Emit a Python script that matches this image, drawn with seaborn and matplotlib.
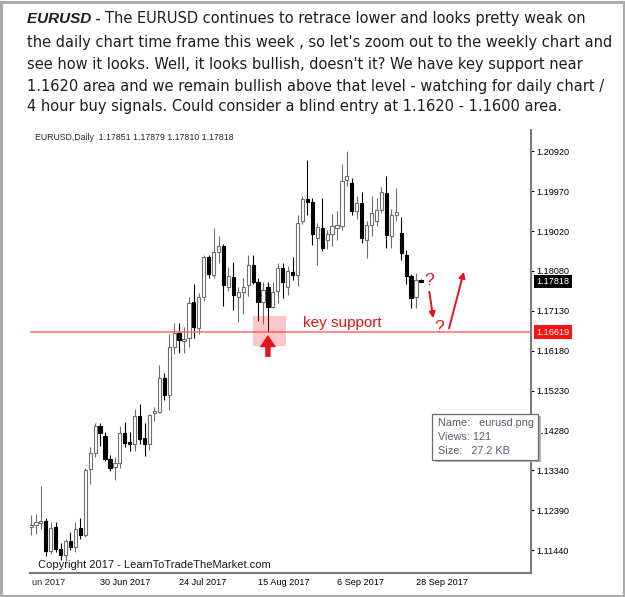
import matplotlib
matplotlib.use("Agg")
import matplotlib.pyplot as plt
from matplotlib.patches import Rectangle, FancyArrow
import seaborn as sns
import pandas as pd
import numpy as np

# daily EURUSD candles, 12 Jun 2017 .. 29 Sep 2017
dates = pd.bdate_range("2017-06-12", "2017-09-29")
opens = [1.1200, 1.1203, 1.1209, 1.1214, 1.1142, 1.1199, 1.1147, 1.1133, 1.1166, 1.1151,
         1.1197, 1.1180, 1.1336, 1.1375, 1.1439, 1.1415, 1.1361, 1.1342, 1.1351, 1.1422,
         1.1400, 1.1396, 1.1463, 1.1410, 1.1396, 1.1470, 1.1472, 1.1552, 1.1513, 1.1627,
         1.1660, 1.1641, 1.1648, 1.1734, 1.1672, 1.1745, 1.1840, 1.1798, 1.1853, 1.1866,
         1.1769, 1.1793, 1.1746, 1.1756, 1.1774, 1.1821, 1.1782, 1.1733, 1.1770, 1.1722,
         1.1760, 1.1814, 1.1768, 1.1804, 1.1797, 1.1925, 1.1978, 1.1972, 1.1885, 1.1909,
         1.1881, 1.1895, 1.1909, 1.1914, 1.2022, 1.2016, 1.1950, 1.1968, 1.1881, 1.1916,
         1.1925, 1.1952, 1.1992, 1.1890, 1.1940, 1.1898, 1.1845, 1.1794, 1.1745, 1.17851]
highs = [1.1228, 1.1230, 1.1296, 1.1220, 1.1212, 1.1212, 1.1160, 1.1170, 1.1186, 1.1211,
         1.1220, 1.1340, 1.1389, 1.1446, 1.1445, 1.1425, 1.1370, 1.1365, 1.1440, 1.1448,
         1.1425, 1.1480, 1.1490, 1.1445, 1.1468, 1.1485, 1.1583, 1.1565, 1.1658, 1.1684,
         1.1684, 1.1675, 1.1745, 1.1777, 1.1755, 1.1846, 1.1846, 1.1910, 1.1890, 1.1870,
         1.1817, 1.1829, 1.1770, 1.1790, 1.1845, 1.1845, 1.1790, 1.1780, 1.1780, 1.1780,
         1.1825, 1.1826, 1.1820, 1.1840, 1.1940, 1.1985, 1.2070, 1.1980, 1.1920, 1.1980,
         1.1905, 1.1942, 1.1950, 1.2061, 1.2092, 1.2027, 1.1985, 1.1995, 1.1925, 1.1985,
         1.1980, 1.2007, 1.2033, 1.1955, 1.2004, 1.1936, 1.1857, 1.1800, 1.1803, 1.17879]
lows = [1.1181, 1.1183, 1.1195, 1.1130, 1.1135, 1.1140, 1.1120, 1.1119, 1.1144, 1.1140,
        1.1170, 1.1175, 1.1300, 1.1365, 1.1392, 1.1355, 1.1331, 1.1311, 1.1340, 1.1390,
        1.1380, 1.1380, 1.1395, 1.1368, 1.1382, 1.1451, 1.1470, 1.1500, 1.1477, 1.1610,
        1.1612, 1.1612, 1.1627, 1.1648, 1.1657, 1.1735, 1.1790, 1.1790, 1.1827, 1.1724,
        1.1760, 1.1714, 1.1687, 1.1705, 1.1748, 1.1775, 1.1688, 1.1680, 1.1662, 1.1718,
        1.1730, 1.1743, 1.1750, 1.1785, 1.1771, 1.1919, 1.1941, 1.1869, 1.1821, 1.1855,
        1.1860, 1.1866, 1.1880, 1.1905, 1.2010, 1.1940, 1.1930, 1.1874, 1.1838, 1.1890,
        1.1915, 1.1945, 1.1862, 1.1862, 1.1925, 1.1833, 1.1775, 1.1719, 1.1719, 1.17810]
closes = [1.1204, 1.1210, 1.1214, 1.1142, 1.1196, 1.1147, 1.1132, 1.1166, 1.1151, 1.1195,
          1.1180, 1.1335, 1.1375, 1.1439, 1.1422, 1.1361, 1.1340, 1.1351, 1.1422, 1.1398,
          1.1396, 1.1463, 1.1408, 1.1396, 1.1465, 1.1475, 1.1552, 1.1513, 1.1627, 1.1660,
          1.1643, 1.1646, 1.1731, 1.1675, 1.1746, 1.1840, 1.1800, 1.1853, 1.1866, 1.1774,
          1.1794, 1.1750, 1.1756, 1.1769, 1.1821, 1.1782, 1.1733, 1.1762, 1.1722, 1.1758,
          1.1814, 1.1780, 1.1806, 1.1797, 1.1921, 1.1978, 1.1971, 1.1895, 1.1912, 1.1862,
          1.1895, 1.1914, 1.1916, 1.2021, 1.2033, 1.1950, 1.1968, 1.1885, 1.1916, 1.1945,
          1.1952, 1.1995, 1.1893, 1.1940, 1.1948, 1.1850, 1.1794, 1.1743, 1.1786, 1.17818]

price_ticks = [1.20920, 1.19970, 1.19020, 1.18080, 1.17130, 1.16180,
               1.15230, 1.14280, 1.13340, 1.12390, 1.11440]
tick_dates = ["2017-06-30", "2017-07-24", "2017-08-15", "2017-09-06", "2017-09-28"]
tick_labels = ["30 Jun 2017", "24 Jul 2017", "15 Aug 2017", "6 Sep 2017", "28 Sep 2017"]

key_support = 1.16619
last_price = 1.17818
zone_low, zone_high = 1.1629, 1.1700
header = "EURUSD,Daily  1.17851 1.17879 1.17810 1.17818"

intro = [
    "The EURUSD continues to retrace lower and looks pretty weak on",
    "the daily chart time frame this week , so let's zoom out to the weekly chart and",
    "see how it looks. Well, it looks bullish, doesn't it? We have key support near",
    "1.1620 area and we remain bullish above that level - watching for daily chart /",
    "4 hour buy signals. Could consider a blind entry at 1.1620 - 1.1600 area.",
]
tooltip = ["Name:   eurusd.png", "Views: 121", "Size:   27.2 KB"]

W, H = 625, 597
def fx(px): return px / W
def fy(py): return 1 - py / H

BULL = "#6e6e6e"
RED = "#e3141c"
TXT = "#1e1e1e"

sns.set_style("white")
plt.rcParams['font.family'] = ['Liberation Sans', 'DejaVu Sans']

fig = plt.figure(figsize=(W / 100, H / 100), dpi=100)
ax = fig.add_axes([fx(30), fy(572.7), (531 - 30) / W, (572.7 - 130) / H])

df = pd.DataFrame({"open": opens, "high": highs, "low": lows, "close": closes}, index=dates)
df["pos"] = np.arange(len(df))
bull = df[df.close >= df.open]
bear = df[df.close < df.open]

ax.vlines(bull.pos, bull.low, bull.high, color=BULL, lw=0.8, zorder=2)
ax.vlines(bear.pos, bear.low, bear.high, color="black", lw=0.8, zorder=2)
ax.bar(bull.pos, (bull.close - bull.open).clip(lower=0.00006), bottom=bull.open,
       width=0.65, color="white", edgecolor=BULL, lw=0.8, zorder=3)
ax.bar(bear.pos, (bear.open - bear.close).clip(lower=0.00006), bottom=bear.close,
       width=0.65, color="black", edgecolor="black", lw=0.8, zorder=3)

ax.set_xlim(-0.2, 101.3)
ax.set_ylim(1.10905, 1.21419)

# axes look of the trading terminal
for s in ["left", "top"]:
    ax.spines[s].set_visible(False)
for s in ["right", "bottom"]:
    ax.spines[s].set_color("#7a7a7a")
    ax.spines[s].set_linewidth(1.5)
ax.yaxis.tick_right()
ax.set_yticks(price_ticks)
ax.set_yticklabels([f"{p:.5f}" for p in price_ticks])
ax.tick_params(axis="y", labelsize=6.6, length=2.5, pad=1.2, colors="black")
tick_pos = [df.index.get_loc(pd.Timestamp(d)) for d in tick_dates]
ax.set_xticks(tick_pos)
ax.set_xticklabels(tick_labels)
for lbl in ax.get_xticklabels():
    lbl.set_ha("left")
ax.tick_params(axis="x", labelsize=6.6, length=2.5, pad=1.5, colors="black")
ax.text(0.004, -0.012, "un 2017", transform=ax.transAxes, ha="left", va="top", fontsize=6.6)

# key support line, zone and labels
ax.axhline(key_support, color="#ff6e6e", lw=1.1, zorder=4)
ax.add_patch(Rectangle((45.0, zone_low), 6.7, zone_high - zone_low,
                       facecolor="#ff2020", alpha=0.25, lw=0, zorder=5))
aug17 = df.index.get_loc(pd.Timestamp("2017-08-17"))
ax.add_patch(FancyArrow(aug17, 1.1603, 0, 0.0052, width=1.1, head_width=3.4,
                        head_length=0.0029, length_includes_head=True,
                        color=RED, lw=0, zorder=6))
ax.text(55.2, key_support + 0.0006, "key support", color=RED, fontsize=11,
        ha="left", va="bottom", zorder=6)

yt = ax.get_yaxis_transform()
ax.text(1.011, last_price, f"{last_price:.5f}", transform=yt, ha="left", va="center",
        fontsize=6.6, color="white", clip_on=False,
        bbox=dict(boxstyle="square,pad=0.25", fc="black", ec="none"))
ax.text(1.011, key_support, f"{key_support:.5f}", transform=yt, ha="left", va="center",
        fontsize=6.6, color="white", clip_on=False,
        bbox=dict(boxstyle="square,pad=0.25", fc="#ff1010", ec="none"))

# scenario sketch: dip to support then up
ax.text(80.6, 1.17856, "?", color=RED, fontsize=12.5, ha="center", va="center")
ax.text(82.6, 1.16740, "?", color=RED, fontsize=12.5, ha="center", va="center")
ax.annotate("", xy=(81.5, 1.16947), xytext=(80.7, 1.17578),
            arrowprops=dict(arrowstyle="-|>", color=RED, lw=1.4, mutation_scale=9,
                            shrinkA=0, shrinkB=0))
ax.annotate("", xy=(87.7, 1.18053), xytext=(84.7, 1.16709),
            arrowprops=dict(arrowstyle="-|>", color=RED, lw=1.4, mutation_scale=9,
                            shrinkA=0, shrinkB=0))

fig.text(fx(35), fy(137), header, fontsize=6.3, ha="left", va="center")
fig.text(fx(38), fy(565.5), "Copyright 2017 - LearnToTradeTheMarket.com",
         fontsize=8, ha="left", va="center", color="#1a1a1a")

# intro paragraph above the chart
ys = [19, 42, 64, 86, 107]
pfont = ["DejaVu Sans"]
first = fig.text(fx(27), fy(ys[0]), "EURUSD -", fontsize=11, fontweight="bold",
                 fontstyle="italic", ha="left", va="center", color=TXT)
fig.canvas.draw()
bb = first.get_window_extent()
fig.text((bb.x1 + 4) / W, fy(ys[0]), intro[0], fontsize=10.5, family=pfont,
         ha="left", va="center", color=TXT)
for y, line in zip(ys[1:], intro[1:]):
    fig.text(fx(27), fy(y), line, fontsize=10.5, family=pfont, ha="left", va="center",
             color=TXT)

# file tooltip box
fig.add_artist(Rectangle((fx(435), fy(462)), 106 / W, 46 / H, transform=fig.transFigure,
                         facecolor="#b5b5b5", lw=0, zorder=10))
fig.add_artist(Rectangle((fx(432), fy(459.5)), 106 / W, 46 / H, transform=fig.transFigure,
                         facecolor="white", edgecolor="#6a6a6a", lw=0.9, zorder=11))
for y, line in zip([423, 437, 451], tooltip):
    fig.text(fx(437.5), fy(y), line, fontsize=7.8, ha="left", va="center",
             color="#5f5873", zorder=12)

# screenshot frame
fig.add_artist(Rectangle((1.5 / W, 1.5 / H), 1 - 3 / W, 1 - 3 / H, transform=fig.transFigure,
                         fill=False, edgecolor="#ababab", lw=2.2, zorder=20))

fig.savefig("out.png", dpi=100)
